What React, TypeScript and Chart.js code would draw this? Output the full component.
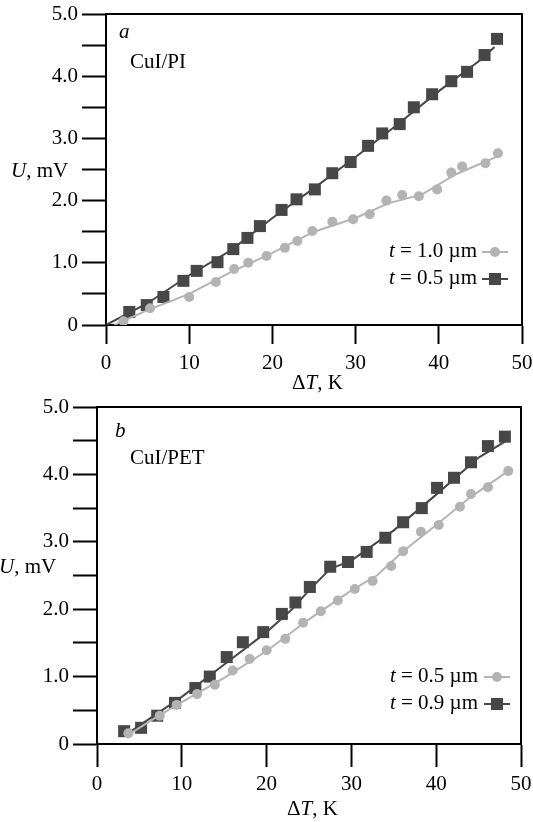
import React, { useEffect, useRef } from 'react';
import { Chart, registerables } from 'chart.js';
Chart.register(...registerables);

const FONT = "'Liberation Serif', 'Times New Roman', serif";
const DARK = '#474747';
const LIGHT = '#b3b3b3';
const FS = 21;

// ---------- Panel a: CuI/PI ----------
// t = 1.0 µm (circles)
const aThickT = [2.1, 5.3, 10.0, 13.2, 15.4, 17.1, 19.3, 21.5, 23.0, 24.8, 27.2, 29.7, 31.7, 33.7, 35.6, 37.6, 39.8, 41.5, 42.8, 45.6, 47.1];
const aThickU = [0.06, 0.27, 0.45, 0.69, 0.90, 1.00, 1.11, 1.24, 1.35, 1.51, 1.66, 1.70, 1.78, 2.00, 2.09, 2.07, 2.18, 2.45, 2.55, 2.60, 2.76];
const aThickFitT = [1, 5, 10, 15, 20, 25, 30, 34, 38, 42, 47.2];
const aThickFitU = [0, 0.24, 0.5, 0.85, 1.16, 1.5, 1.72, 1.96, 2.1, 2.42, 2.72];
// t = 0.5 µm (squares)
const aThinT = [2.8, 4.9, 6.9, 9.3, 10.9, 13.4, 15.3, 17.0, 18.5, 21.1, 22.9, 25.1, 27.2, 29.4, 31.5, 33.2, 35.3, 37.0, 39.2, 41.5, 43.4, 45.5, 47.0];
const aThinU = [0.21, 0.32, 0.45, 0.71, 0.87, 1.01, 1.22, 1.40, 1.59, 1.85, 2.02, 2.18, 2.44, 2.62, 2.88, 3.08, 3.23, 3.50, 3.71, 3.92, 4.07, 4.34, 4.60];
const aThinFitT = [0, 5, 10, 15, 20, 25, 30, 35, 40, 45, 46.7];
const aThinFitU = [0, 0.35, 0.8, 1.2, 1.72, 2.2, 2.7, 3.22, 3.76, 4.26, 4.47];

// ---------- Panel b: CuI/PET ----------
// t = 0.5 µm (circles)
const bThinT = [3.7, 7.4, 9.4, 11.8, 13.9, 16.0, 18.0, 20.0, 22.2, 24.3, 26.4, 28.4, 30.4, 32.5, 34.7, 36.1, 38.2, 40.3, 42.8, 44.1, 46.1, 48.5];
const bThinU = [0.16, 0.42, 0.58, 0.74, 0.88, 1.09, 1.26, 1.39, 1.56, 1.80, 1.97, 2.13, 2.30, 2.42, 2.64, 2.86, 3.15, 3.25, 3.52, 3.71, 3.81, 4.05];
const bThinFitT = [3.5, 7, 10, 15, 20, 25, 30, 33, 36, 40, 44, 48.6];
const bThinFitU = [0.12, 0.4, 0.62, 0.98, 1.38, 1.85, 2.28, 2.5, 2.85, 3.25, 3.66, 4.06];
// t = 0.9 µm (squares)
const bThickT = [3.2, 5.2, 7.1, 9.2, 11.6, 13.3, 15.3, 17.2, 19.6, 21.8, 23.4, 25.1, 27.5, 29.6, 31.8, 34.0, 36.1, 38.3, 40.1, 42.1, 44.1, 46.1, 48.1];
const bThickU = [0.19, 0.24, 0.42, 0.61, 0.83, 1.00, 1.29, 1.51, 1.66, 1.93, 2.10, 2.33, 2.63, 2.70, 2.85, 3.06, 3.29, 3.50, 3.80, 3.95, 4.18, 4.42, 4.56];
const bThickFitT = [3.2, 10, 15, 20, 23, 25, 27.5, 30, 35, 40, 45, 48.3];
const bThickFitU = [0.12, 0.7, 1.18, 1.66, 2.0, 2.28, 2.6, 2.72, 3.17, 3.7, 4.25, 4.5];

const xTicks = [0, 10, 20, 30, 40, 50];
const yLabelValues = [0, 1, 2, 3, 4, 5];

type Run = { t: string; i?: boolean };

const zip = (xs: number[], ys: number[]) => xs.map((x, k) => ({ x, y: ys[k] }));

function fontOf(italic: boolean | undefined, size: number) {
  return `${italic ? 'italic ' : ''}${size}px ${FONT}`;
}

function drawRuns(ctx: CanvasRenderingContext2D, runs: Run[], x: number, y: number, align: 'left' | 'right', size: number) {
  let total = 0;
  for (const r of runs) { ctx.font = fontOf(r.i, size); total += ctx.measureText(r.t).width; }
  let cx = align === 'right' ? x - total : x;
  ctx.textBaseline = 'alphabetic';
  ctx.textAlign = 'left';
  ctx.fillStyle = '#000';
  for (const r of runs) {
    ctx.font = fontOf(r.i, size);
    ctx.fillText(r.t, cx, y);
    cx += ctx.measureText(r.t).width;
  }
}

type PanelCfg = {
  canvasTop: number;
  height: number;
  area: { left: number; top: number; right: number; bottom: number };
  xTickLen: number;
  xPad: number;
  series: { light: { pts: number[][]; fit: number[][] }; dark: { pts: number[][]; fit: number[][] } };
  letter: { t: string; x: number; y: number };
  name: { t: string; x: number; y: number };
  uLabel: { x: number; y: number };
  tLabel: { x: number; y: number };
  legend: { light: string; dark: string; right: number; y1: number; y2: number; mx: number };
};

function makeDecor(cfg: PanelCfg) {
  return {
    id: 'decor',
    afterDraw(chart: any) {
      const { ctx, chartArea: ca } = chart;
      ctx.save();
      ctx.strokeStyle = '#000';
      ctx.lineWidth = 2;
      ctx.beginPath();
      ctx.moveTo(ca.left - 1, ca.top);
      ctx.lineTo(ca.right, ca.top);
      ctx.lineTo(ca.right, ca.bottom);
      ctx.stroke();
      drawRuns(ctx, [{ t: cfg.letter.t, i: true }], cfg.letter.x, cfg.letter.y, 'left', FS);
      drawRuns(ctx, [{ t: cfg.name.t }], cfg.name.x, cfg.name.y, 'left', FS);
      drawRuns(ctx, [{ t: 'U', i: true }, { t: ', mV' }], cfg.uLabel.x, cfg.uLabel.y, 'left', FS);
      drawRuns(ctx, [{ t: 'Δ' }, { t: 'T', i: true }, { t: ', K' }], cfg.tLabel.x, cfg.tLabel.y, 'left', FS);
      const lg = cfg.legend;
      const entries = [
        { text: lg.light, y: lg.y1, color: LIGHT, shape: 'circle' },
        { text: lg.dark, y: lg.y2, color: DARK, shape: 'rect' },
      ];
      for (const e of entries) {
        drawRuns(ctx, [{ t: 't', i: true }, { t: ' = ' + e.text }], lg.right, e.y, 'right', FS);
        const my = e.y - 5;
        ctx.strokeStyle = e.color;
        ctx.lineWidth = 2;
        ctx.beginPath();
        ctx.moveTo(lg.mx - 13, my);
        ctx.lineTo(lg.mx + 13, my);
        ctx.stroke();
        ctx.fillStyle = e.color;
        if (e.shape === 'circle') {
          ctx.beginPath();
          ctx.arc(lg.mx, my, 5, 0, Math.PI * 2);
          ctx.fill();
        } else {
          ctx.fillRect(lg.mx - 6, my - 6, 12, 12);
        }
      }
      ctx.restore();
    },
  };
}

function Panel({ cfg }: { cfg: PanelCfg }) {
  const ref = useRef<HTMLCanvasElement>(null);
  useEffect(() => {
    if (!ref.current) return;
    const a = cfg.area;
    const H = cfg.height;
    const toPts = (arr: number[][]) => zip(arr[0], arr[1]);
    const chart = new Chart(ref.current, {
      type: 'scatter',
      data: {
        datasets: [
          { data: toPts(cfg.series.light.pts), pointStyle: 'circle', pointRadius: 5, pointBackgroundColor: LIGHT, pointBorderWidth: 0, showLine: false },
          { data: toPts(cfg.series.light.fit), pointRadius: 0, borderColor: LIGHT, borderWidth: 2, showLine: true },
          { data: toPts(cfg.series.dark.pts), pointStyle: 'rect', pointRadius: 8.5, pointBackgroundColor: DARK, pointBorderWidth: 0, showLine: false },
          { data: toPts(cfg.series.dark.fit), pointRadius: 0, borderColor: DARK, borderWidth: 2, showLine: true },
        ],
      },
      options: {
        responsive: false,
        animation: false,
        events: [],
        layout: { padding: { left: 0, top: a.top, right: 533 - a.right, bottom: 0 } },
        plugins: { legend: { display: false }, tooltip: { enabled: false } },
        scales: {
          x: {
            type: 'linear',
            min: 0,
            max: 50,
            afterBuildTicks: (s: any) => { s.ticks = xTicks.map((v) => ({ value: v })); },
            ticks: { color: '#000', font: { family: FONT, size: FS }, padding: cfg.xPad, maxRotation: 0, autoSkip: false },
            grid: { drawOnChartArea: false, drawTicks: true, tickLength: cfg.xTickLen, tickWidth: 2, tickColor: '#000' },
            border: { display: true, color: '#000', width: 2 },
            afterFit: (s: any) => { s.height = H - a.bottom; s.paddingLeft = 0; s.paddingRight = 0; },
          },
          y: {
            type: 'linear',
            min: 0,
            max: 5,
            ticks: {
              stepSize: 0.5,
              autoSkip: false,
              color: '#000',
              font: { family: FONT, size: FS },
              padding: 4,
              callback: (v: any) => {
                const n = Number(v);
                if (n === 0) return '0';
                return yLabelValues.some((q) => Math.abs(q - n) < 1e-6) ? n.toFixed(1) : '';
              },
            },
            grid: { drawOnChartArea: false, drawTicks: true, tickLength: 24, tickWidth: 2, tickColor: '#000' },
            border: { display: true, color: '#000', width: 2 },
            afterFit: (s: any) => { s.width = a.left; s.paddingTop = 0; s.paddingBottom = 0; },
          },
        },
      },
      plugins: [makeDecor(cfg)],
    } as any);
    return () => chart.destroy();
  }, [cfg]);
  return (
    <div style={{ position: 'absolute', left: 0, top: cfg.canvasTop, width: 533, height: cfg.height }}>
      <canvas ref={ref} width={533} height={cfg.height} style={{ display: 'block', width: 533, height: cfg.height }} />
    </div>
  );
}

const panelA: PanelCfg = {
  canvasTop: 0,
  height: 400,
  area: { left: 106, top: 14, right: 522, bottom: 325 },
  xTickLen: 19,
  xPad: 7,
  series: {
    light: { pts: [aThickT, aThickU], fit: [aThickFitT, aThickFitU] },
    dark: { pts: [aThinT, aThinU], fit: [aThinFitT, aThinFitU] },
  },
  letter: { t: 'a', x: 119, y: 38 },
  name: { t: 'CuI/PI', x: 130, y: 68 },
  uLabel: { x: 11, y: 177 },
  tLabel: { x: 292, y: 389 },
  legend: { light: '1.0 µm', dark: '0.5 µm', right: 477, y1: 257, y2: 284, mx: 495 },
};

const panelB: PanelCfg = {
  canvasTop: 395,
  height: 427,
  area: { left: 97, top: 12, right: 521, bottom: 349 },
  xTickLen: 23,
  xPad: 5,
  series: {
    light: { pts: [bThinT, bThinU], fit: [bThinFitT, bThinFitU] },
    dark: { pts: [bThickT, bThickU], fit: [bThickFitT, bThickFitU] },
  },
  letter: { t: 'b', x: 115, y: 42 },
  name: { t: 'CuI/PET', x: 130, y: 69 },
  uLabel: { x: -1, y: 178 },
  tLabel: { x: 287, y: 420 },
  legend: { light: '0.5 µm', dark: '0.9 µm', right: 478, y1: 287, y2: 314, mx: 497 },
};

export default function App() {
  return (
    <div style={{ position: 'absolute', left: 0, top: 0, width: 533, height: 822 }}>
      <Panel cfg={panelA} />
      <Panel cfg={panelB} />
    </div>
  );
}
